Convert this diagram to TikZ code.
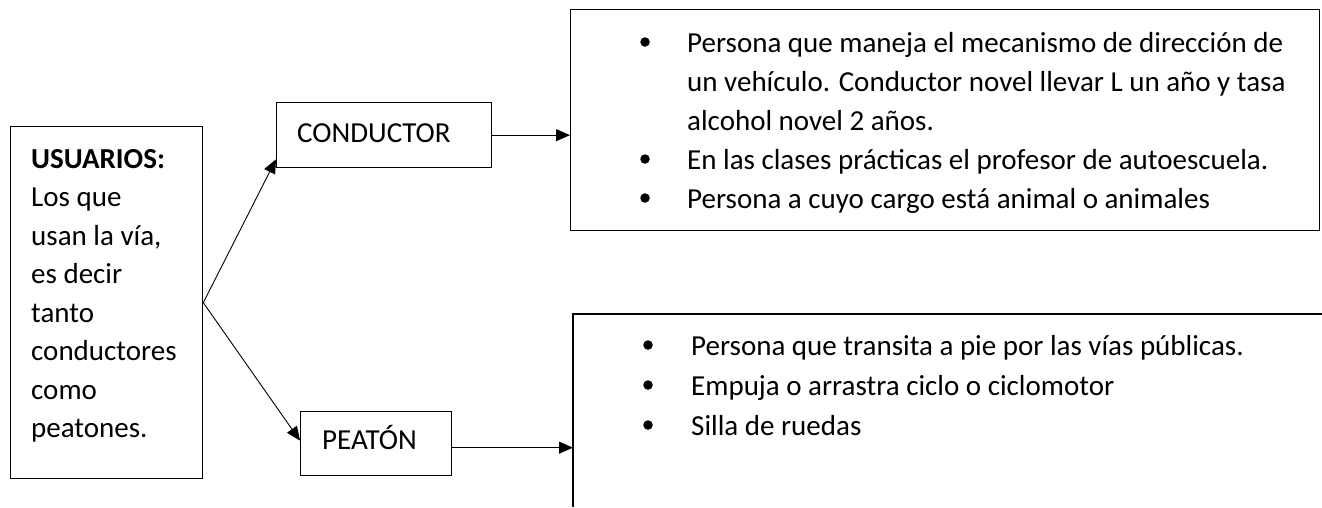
\documentclass[tikz,border=0pt]{standalone}
\usepackage{fontspec}
\setmainfont{Carlito}
\usetikzlibrary{arrows.meta}
\begin{document}
\begin{tikzpicture}[x=1pt,y=-1pt,
  box/.style={draw, line width=1.3pt, inner sep=0pt, anchor=north west},
  txt/.style={anchor=base west, inner sep=0pt, font=\fontsize{29}{38.5}\selectfont},
  bul/.style={anchor=center, inner sep=0pt, circle, fill=black, minimum size=9.5pt},
  conn/.style={line width=0.9pt, -{Triangle[length=14pt,width=12pt]}},
]
\useasboundingbox (0,0) rectangle (1322,507);
% boxes
\node[box, minimum width=192pt, minimum height=352pt] (usr) at (10,126) {};
\node[box, minimum width=215pt, minimum height=65pt] (cond) at (276,102) {};
\node[box, minimum width=151pt, minimum height=64pt] (peat) at (300,411) {};
\node[box, minimum width=749pt, minimum height=221pt] (cbox) at (570,9) {};
\coordinate (pa) at (573,314);
\coordinate (pb) at (1322,314);
\coordinate (pc) at (573,507);
\draw[line width=1.3pt] (pb) -- (pa) -- (pc);
% left text
\node[txt, font=\fontsize{29}{38.5}\selectfont\bfseries] (u1) at (31,168) {USUARIOS:};
\node[txt] (u2) at (31,206.5) {Los que};
\node[txt] (u3) at (31,245) {usan la vía,};
\node[txt] (u4) at (31,283.5) {es decir};
\node[txt] (u5) at (31,322) {tanto};
\node[txt] (u6) at (31,360.5) {conductores};
\node[txt] (u7) at (31,399) {como};
\node[txt] (u8) at (31,437.5) {peatones.};
% labels
\node[txt] (lc) at (297,142) {CONDUCTOR};
\node[txt] (lp) at (322,449) {PEATÓN};
% conductor list
\node[bul] (b1) at (645,42) {};
\node[txt] (c1) at (687,52) {Persona que maneja el mecanismo de dirección de};
\node[txt] (c2) at (687,91) {un vehículo. Conductor novel llevar L un año y tasa};
\node[txt] (c3) at (687,130) {alcohol novel 2 años.};
\node[bul] (b2) at (645,159) {};
\node[txt] (c4) at (687,169) {En las clases prácticas el profesor de autoescuela.};
\node[bul] (b3) at (645,198) {};
\node[txt] (c5) at (687,208) {Persona a cuyo cargo está animal o animales};
% peaton list
\node[bul] (p1) at (648,345) {};
\node[txt] (d1) at (691,355) {Persona que transita a pie por las vías públicas.};
\node[bul] (p2) at (648,385) {};
\node[txt] (d2) at (691,395) {Empuja o arrastra ciclo o ciclomotor};
\node[bul] (p3) at (648,425) {};
\node[txt] (d3) at (691,435) {Silla de ruedas};
% connectors
\draw[conn] (usr.east) -- ([yshift=9pt]cond.south west);
\draw[conn] (usr.east) -- ([yshift=3pt]peat.west);
\draw[conn] (cond.east) -- (cond.east -| cbox.west);
\draw[conn] ([yshift=-4pt]peat.east) -- ([yshift=-4pt]peat.east -| pa);
\end{tikzpicture}
\end{document}
